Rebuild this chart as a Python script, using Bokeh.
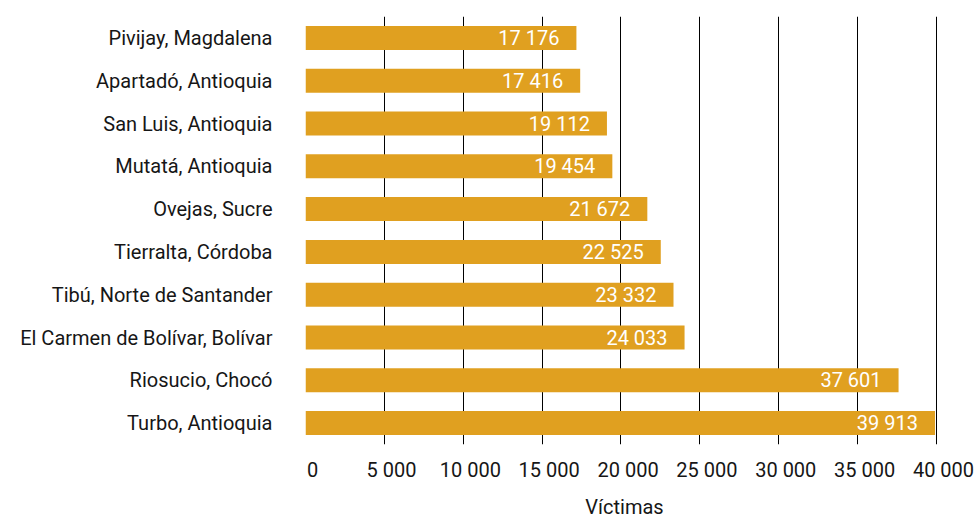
from bokeh.plotting import figure
from bokeh.models import (ColumnDataSource, FactorRange, Range1d, LinearAxis,
                          FixedTicker, Grid, LabelSet)
from bokeh.core.properties import value
from bokeh.embed import file_html
from bokeh.resources import INLINE

# Municipalities, listed top to bottom
municipios = [
    "Pivijay, Magdalena",
    "Apartadó, Antioquia",
    "San Luis, Antioquia",
    "Mutatá, Antioquia",
    "Ovejas, Sucre",
    "Tierralta, Córdoba",
    "Tibú, Norte de Santander",
    "El Carmen de Bolívar, Bolívar",
    "Riosucio, Chocó",
    "Turbo, Antioquia",
]
victimas = [17176, 17416, 19112, 19454, 21672, 22525, 23332, 24033, 37601, 39913]
etiquetas = ["17 176", "17 416", "19 112", "19 454", "21 672",
             "22 525", "23 332", "24 033", "37 601", "39 913"]

tick_values = [0, 5000, 10000, 15000, 20000, 25000, 30000, 35000, 40000]
tick_labels = ["0", "5 000", "10 000", "15 000", "20 000",
               "25 000", "30 000", "35 000", "40 000"]

FONT = "Roboto"
BAR = "#E0A020"
INK = "#161616"

source = ColumnDataSource(dict(cat=municipios, val=victimas, lab=etiquetas))

x_end = 40450
p = figure(
    width=978, height=521,
    y_range=FactorRange(factors=municipios[::-1], range_padding=0),
    x_range=Range1d(0, x_end),
    output_backend="svg", toolbar_location=None,
    min_border_left=305, min_border_right=35,
    min_border_top=16, min_border_bottom=77,
)
p.outline_line_color = None
p.background_fill_color = "white"
p.border_fill_color = "white"

# vertical reference lines at every 5 000
p.xgrid.visible = False
p.ygrid.visible = False
p.add_layout(Grid(dimension=0, ticker=FixedTicker(ticks=tick_values),
                  grid_line_color="black", grid_line_width=1))

p.hbar(y="cat", right="val", left=0, height=0.56, source=source,
       fill_color=BAR, line_color=None)

p.add_layout(LabelSet(x="val", y="cat", text="lab", source=source,
                      x_offset=-17, text_align="right", text_baseline="middle",
                      text_color="white", text_font=value(FONT),
                      text_font_size="20px"))

# primary x axis is hidden; tick labels sit on a slightly shifted scale
p.xaxis.visible = False
shift = x_end - 40000
p.extra_x_ranges = {"lab": Range1d(-shift, 40000)}
xa = LinearAxis(x_range_name="lab", ticker=FixedTicker(ticks=tick_values),
                major_label_overrides={v: s for v, s in zip(tick_values, tick_labels)},
                axis_label="Víctimas")
xa.axis_line_color = None
xa.major_tick_line_color = None
xa.minor_tick_line_color = None
xa.major_tick_out = 0
xa.major_label_standoff = 13
xa.major_label_text_font = FONT
xa.major_label_text_font_size = "20px"
xa.major_label_text_color = INK
xa.axis_label_standoff = 10
xa.axis_label_text_font = FONT
xa.axis_label_text_font_size = "20px"
xa.axis_label_text_font_style = "normal"
xa.axis_label_text_color = INK
p.add_layout(xa, "below")

ya = p.yaxis[0]
ya.axis_line_color = None
ya.major_tick_line_color = None
ya.minor_tick_line_color = None
ya.major_tick_out = 0
ya.major_label_standoff = 33
ya.major_label_text_font = FONT
ya.major_label_text_font_size = "20px"
ya.major_label_text_color = INK

open("out.html", "w").write(file_html(p, INLINE))
